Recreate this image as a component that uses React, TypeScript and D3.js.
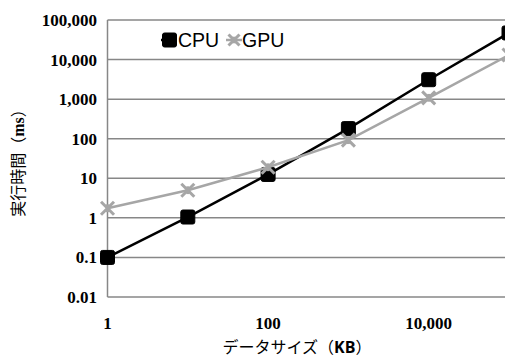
import React from 'react';
import * as d3 from 'd3';

const width = 505;
const height = 358;

// data sizes in KB
const sizes = [1, 10, 100, 1000, 10000, 100000];
const cpuTimes = [0.1, 1.05, 12.5, 180, 3100, 47000];
const gpuTimes = [1.75, 5, 19, 92, 1080, 13000];
const yTicks = [0.01, 0.1, 1, 10, 100, 1000, 10000, 100000];
const xTicks = [1, 100, 10000];

const x = d3.scaleLog().domain([1, 100000]).range([107.5, 509]);
const y = d3.scaleLog().domain([0.01, 100000]).range([297, 20]);

const fmt = (v: number) => (v < 1 ? String(v) : d3.format(',')(v));

const tickFont = '"Liberation Serif", "Times New Roman", serif';
const jpFont = '"Noto Sans CJK JP", sans-serif';

const Square = ({ cx, cy }: { cx: number; cy: number }) => (
  <rect x={cx - 7} y={cy - 7} width={14} height={14} rx={2} fill="#000" stroke="#000" strokeWidth={1} />
);

const Star = ({ cx, cy, s = 6.5 }: { cx: number; cy: number; s?: number }) => (
  <g stroke="#a6a6a6" strokeWidth={3} strokeLinecap="butt">
    <line x1={cx - s} y1={cy - s} x2={cx + s} y2={cy + s} />
    <line x1={cx - s} y1={cy + s} x2={cx + s} y2={cy - s} />
    <line x1={cx} y1={cy - s * 0.6} x2={cx} y2={cy + s * 0.6} />
  </g>
);

export default function App() {
  const line = d3
    .line<number>()
    .x((d, i) => x(sizes[i]))
    .y((d) => y(d));

  return (
    <svg width={width} height={height} style={{ position: 'absolute', left: 0, top: 0 }}>
      <rect width={width} height={height} fill="#fff" />
      {/* grid */}
      {yTicks.map((t) => (
        <line key={t} x1={107.5} x2={width} y1={y(t)} y2={y(t)} stroke="#878787" strokeWidth={1.5} />
      ))}
      <line x1={107.5} x2={107.5} y1={20} y2={297} stroke="#878787" strokeWidth={1.5} />

      {/* y tick labels */}
      {yTicks.map((t) => (
        <text key={t} x={97} y={y(t) + 6} textAnchor="end" fontFamily={tickFont} fontWeight="bold" fontSize={17}>
          {fmt(t)}
        </text>
      ))}
      {/* x tick labels */}
      {xTicks.map((t) => (
        <text key={t} x={x(t)} y={329} textAnchor="middle" fontFamily={tickFont} fontWeight="bold" fontSize={17}>
          {fmt(t)}
        </text>
      ))}

      {/* series */}
      <path d={line(cpuTimes) || ''} fill="none" stroke="#000" strokeWidth={2.5} />
      {cpuTimes.map((v, i) => (
        <Square key={i} cx={x(sizes[i])} cy={y(v)} />
      ))}
      <path d={line(gpuTimes) || ''} fill="none" stroke="#a6a6a6" strokeWidth={2.5} />
      {gpuTimes.map((v, i) => (
        <Star key={i} cx={x(sizes[i])} cy={y(v)} />
      ))}

      {/* legend */}
      <line x1={161} x2={177} y1={40} y2={40} stroke="#000" strokeWidth={2.5} />
      <Square cx={169.5} cy={40} />
      <text x={178} y={47} fontFamily='"Liberation Sans", Arial, sans-serif' fontSize={19.5}>CPU</text>
      <line x1={226} x2={242} y1={40} y2={40} stroke="#a6a6a6" strokeWidth={2.5} />
      <Star cx={234} cy={40} s={5.5} />
      <text x={242} y={47} fontFamily='"Liberation Sans", Arial, sans-serif' fontSize={19.5}>GPU</text>

      {/* axis titles */}
      <text transform="translate(24,159) rotate(-90)" textAnchor="middle" fontSize={16}>
        <tspan fontFamily={jpFont}>実行時間（</tspan>
        <tspan fontFamily={tickFont} fontWeight="bold">ms</tspan>
        <tspan fontFamily={jpFont}>）</tspan>
      </text>
      <text x={297} y={353} textAnchor="middle" fontSize={16}>
        <tspan fontFamily={jpFont}>データサイズ（</tspan>
        <tspan fontFamily='"Open Sans", sans-serif' fontWeight="bold">KB</tspan>
        <tspan fontFamily={jpFont}>）</tspan>
      </text>
    </svg>
  );
}
